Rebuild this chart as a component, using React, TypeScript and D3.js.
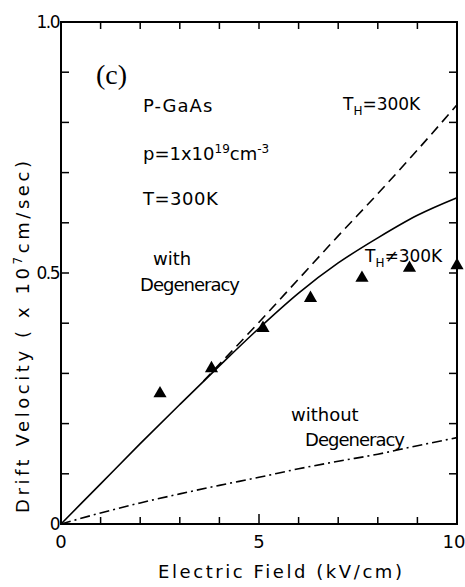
import React from "react";
import * as d3 from "d3";

const W = 465;
const H = 587;

// Electric field (kV/cm)
const fieldSolid = [0, 1, 2, 3, 4, 5, 6, 7, 8, 9, 10];
const velSolid = [0, 0.08, 0.16, 0.238, 0.315, 0.39, 0.46, 0.52, 0.57, 0.615, 0.65];

const fieldDashed = [3.6, 5, 6, 7, 8, 9, 10];
const velDashed = [0.285, 0.402, 0.488, 0.574, 0.658, 0.745, 0.835];

const fieldDashDot = [0, 1, 2, 3, 4, 5, 6, 7, 8, 9, 10];
const velDashDot = [0, 0.022, 0.042, 0.06, 0.077, 0.093, 0.11, 0.125, 0.139, 0.156, 0.172];

const fieldTri = [2.5, 3.8, 5.1, 6.3, 7.6, 8.8, 10];
const velTri = [0.26, 0.31, 0.39, 0.45, 0.49, 0.51, 0.515];

const xTicks = [0, 1, 2, 3, 4, 5, 6, 7, 8, 9, 10];
const xTickLabels = ["0", "5", "10"];
const yTicks = [0, 0.1, 0.2, 0.3, 0.4, 0.5, 0.6, 0.7, 0.8, 0.9, 1.0];
const yTickLabels = ["0", "0.5", "1.0"];

const FONT = "'DejaVu Sans', sans-serif";

export default function App() {
  const x = d3.scaleLinear().domain([0, 10]).range([61, 457]);
  const y = d3.scaleLinear().domain([0, 1]).range([524, 22]);

  const line = d3
    .line<[number, number]>()
    .x((d) => x(d[0]))
    .y((d) => y(d[1]))
    .curve(d3.curveMonotoneX);

  const solid = line(fieldSolid.map((f, i) => [f, velSolid[i]]));
  const dashed = line(fieldDashed.map((f, i) => [f, velDashed[i]]));
  const dashDot = line(fieldDashDot.map((f, i) => [f, velDashDot[i]]));
  const tri = d3.symbol().type(d3.symbolTriangle).size(75)();

  const x0 = x(0), x1 = x(10), y0 = y(0), y1 = y(1);

  return (
    <svg
      width={W}
      height={H}
      style={{ position: "absolute", left: 0, top: 0, background: "#fff" }}
      fontFamily={FONT}
    >
      <rect x={0} y={0} width={W} height={H} fill="#fff" />
      {/* frame */}
      <rect x={x0} y={y1} width={x1 - x0} height={y0 - y1} fill="none" stroke="#000" strokeWidth={2} />
      {/* x ticks bottom & top */}
      {xTicks.map((t) => (
        <g key={"xt" + t}>
          <line x1={x(t)} x2={x(t)} y1={y0} y2={y0 - (t === 5 ? 10 : 7)} stroke="#000" strokeWidth={1.5} />
          <line x1={x(t)} x2={x(t)} y1={y1} y2={y1 + 7} stroke="#000" strokeWidth={1.5} />
        </g>
      ))}
      {/* y ticks left & right */}
      {yTicks.map((t) => (
        <g key={"yt" + t}>
          <line x1={x0} x2={x0 + 8} y1={y(t)} y2={y(t)} stroke="#000" strokeWidth={1.5} />
          <line x1={x1} x2={x1 - 8} y1={y(t)} y2={y(t)} stroke="#000" strokeWidth={1.5} />
        </g>
      ))}
      {/* tick labels */}
      {xTickLabels.map((l) => (
        <text
          key={"xl" + l}
          x={+l === 10 ? x(10) - 3 : x(+l)}
          y={548}
          textAnchor="middle"
          fontSize={18}
        >
          {l}
        </text>
      ))}
      {yTickLabels.map((l) => (
        <text key={"yl" + l} x={x0 - 2} y={y(+l) + 6} textAnchor="end" fontSize={17} letterSpacing={-1.5}>
          {l}
        </text>
      ))}
      {/* axis titles */}
      <text x={280} y={578} textAnchor="middle" fontSize={18} textLength={244} lengthAdjust="spacing">
        Electric Field (kV/cm)
      </text>
      <text
        transform={`translate(29,337) rotate(-90)`}
        textAnchor="middle"
        fontSize={18}
        textLength={352}
        lengthAdjust="spacing"
      >
        Drift Velocity ( x 10<tspan dy={-7} fontSize={12}>7</tspan>
        <tspan dy={7}>cm/sec)</tspan>
      </text>
      {/* curves */}
      <path d={solid || ""} fill="none" stroke="#000" strokeWidth={1.6} />
      <path d={dashed || ""} fill="none" stroke="#000" strokeWidth={1.6} strokeDasharray="10 6" />
      <path d={dashDot || ""} fill="none" stroke="#000" strokeWidth={1.6} strokeDasharray="10 4 2 4" />
      {/* triangles */}
      {fieldTri.map((f, i) => (
        <path key={"tr" + i} d={tri || ""} transform={`translate(${x(f)},${y(velTri[i])})`} fill="#000" />
      ))}
      {/* annotations */}
      <text x={96} y={84} fontSize={28} fontFamily="'Liberation Serif', serif">
        (c)
      </text>
      <text x={143} y={112} fontSize={18} letterSpacing={1}>
        P-GaAs
      </text>
      <text x={143} y={160} fontSize={18}>
        p=1x10<tspan dy={-7} fontSize={12}>19</tspan>
        <tspan dy={7}>cm</tspan>
        <tspan dy={-7} fontSize={12}>-3</tspan>
      </text>
      <text x={143} y={205} fontSize={18} letterSpacing={0.5}>
        T=300K
      </text>
      <text x={343} y={110} fontSize={17}>
        T<tspan dy={5} fontSize={12}>H</tspan>
        <tspan dy={-5}>=300K</tspan>
      </text>
      <text x={153} y={265} fontSize={18}>
        with
      </text>
      <text x={140} y={291} fontSize={18} textLength={100} lengthAdjust="spacing">
        Degeneracy
      </text>
      <text x={365} y={262} fontSize={17}>
        T<tspan dy={5} fontSize={12}>H</tspan>
        <tspan dy={-5}>≠300K</tspan>
      </text>
      <text x={291} y={421} fontSize={18}>
        without
      </text>
      <text x={305} y={446} fontSize={18} textLength={100} lengthAdjust="spacing">
        Degeneracy
      </text>
    </svg>
  );
}
